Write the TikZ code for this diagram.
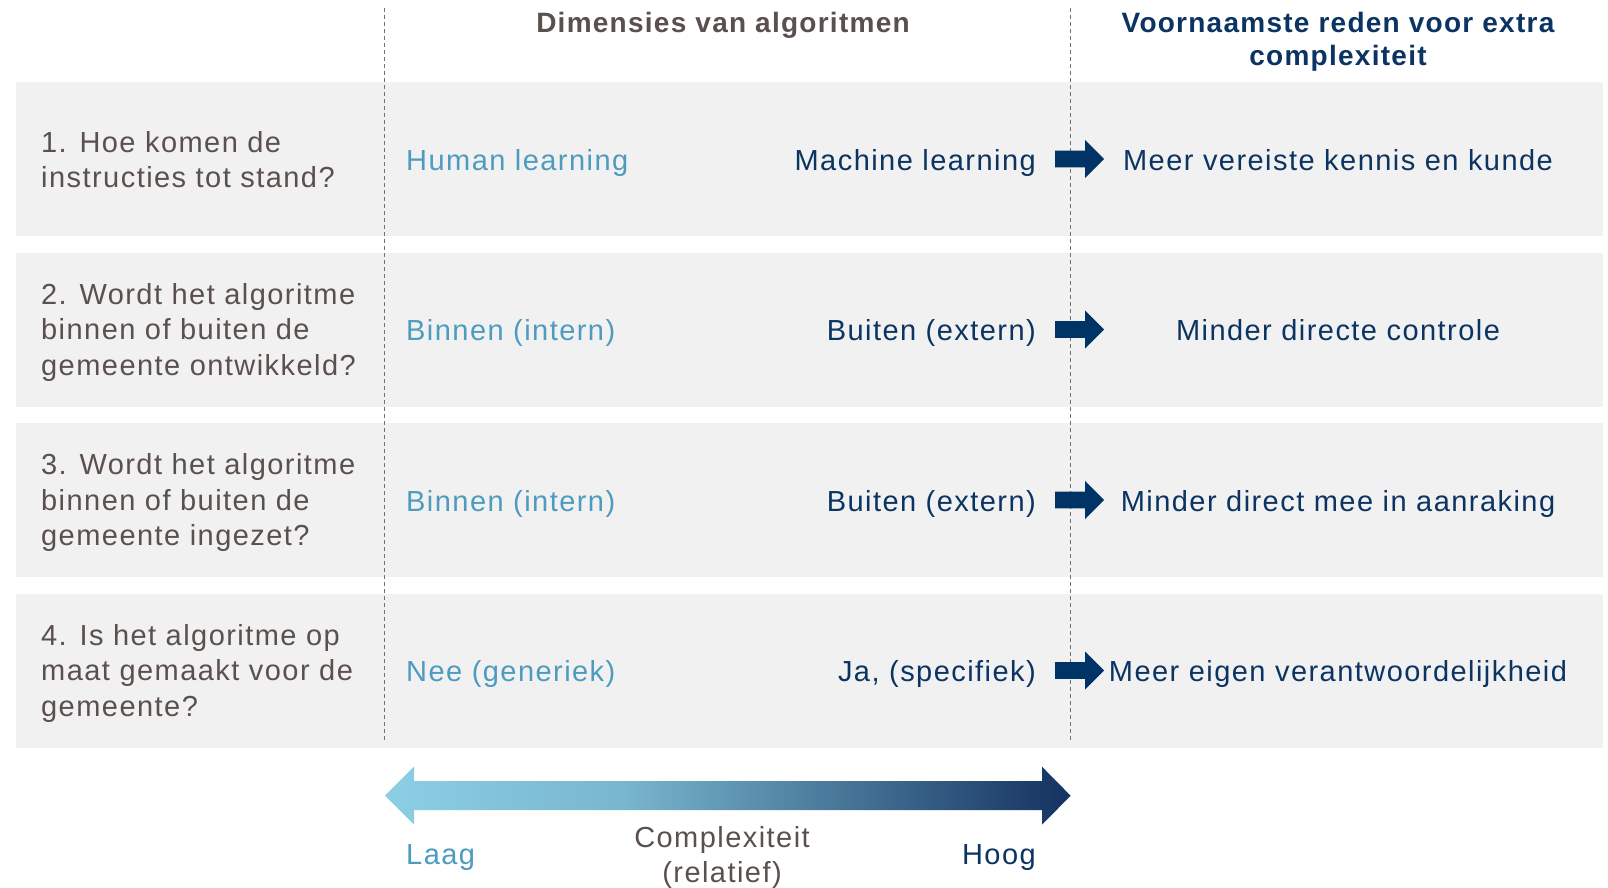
\documentclass[tikz,border=0pt]{standalone}
\usepackage{fontspec}
\setmainfont{Liberation Sans}[LetterSpace=5]
\newfontfamily\headfont{Liberation Sans}[LetterSpace=4.5]
\definecolor{bandc}{RGB}{241,241,241}
\definecolor{qgray}{RGB}{90,80,78}
\definecolor{lblue}{RGB}{78,155,192}
\definecolor{navy}{RGB}{12,52,98}
\definecolor{anavy}{RGB}{0,52,102}
\definecolor{dashc}{RGB}{120,110,108}
\definecolor{gA}{RGB}{140,207,229}
\definecolor{gB}{RGB}{120,182,205}
\definecolor{gC}{RGB}{20,50,96}
\pgfdeclarehorizontalshading{cplx}{100bp}{color(0bp)=(gA); color(25bp)=(gA); color(42.5bp)=(gB); color(75bp)=(gC); color(100bp)=(gC)}
\begin{document}
\begin{tikzpicture}[x=1pt,y=-1pt,
  body/.style={font=\fontsize{29}{35.5}\selectfont, inner sep=0pt},
  headtxt/.style={font=\headfont\bfseries\fontsize{28}{33.5}\selectfont, inner sep=0pt},
  question/.style={body, text=qgray, anchor=west, align=left},
  low/.style={body, text=lblue, anchor=base west},
  high/.style={body, text=navy, anchor=base east},
  reason/.style={body, text=navy, anchor=base},
  divider/.style={draw=dashc, line width=0.8pt, dash pattern=on 4pt off 3pt},
  blockarrow/.style={fill=anavy, draw=none}]
\fill[white] (0,0) rectangle (1608,888);
\useasboundingbox (0,0) rectangle (1608,888);
% bands
\foreach \y in {159,329.5,500,670.5}{
  \fill[bandc] (15.5,{\y-77}) rectangle (1603,{\y+77});
}
% dividers
\coordinate (d1t) at (384.6,8);
\coordinate (d1b) at (384.6,740);
\coordinate (d2t) at (1070.6,8);
\coordinate (d2b) at (1070.6,740);
\draw[divider] (d1t) -- (d1b);
\draw[divider] (d2t) -- (d2b);
% block arrows
\foreach \y in {159,329.5,500,670.5}{
  \fill[blockarrow] (1055,{\y-8.3}) -- (1085,{\y-8.3}) -- (1085,{\y-19}) -- (1104,\y) -- (1085,{\y+19}) -- (1085,{\y+8.3}) -- (1055,{\y+8.3}) -- cycle;
}
% headers
\node[headtxt, text=qgray, anchor=base] (h-dim) at (723,32.5) {Dimensies van algoritmen};
\node[headtxt, text=navy, anchor=north, align=center] (h-reason) at (1338,12) {Voornaamste reden voor extra\\complexiteit};
% row 1
\node[question] (q1) at (41,159.5) {1. Hoe komen de\\instructies tot stand?};
\node[low] (l1) at (406,170) {Human learning};
\node[high] (hi1) at (1036,170) {Machine learning};
\node[reason] (r1) at (1338,170) {Meer vereiste kennis en kunde};
% row 2
\node[question] (q2) at (41,332) {2. Wordt het algoritme\\binnen of buiten de\\gemeente ontwikkeld?};
\node[low] (l2) at (406,340.5) {Binnen (intern)};
\node[high] (hi2) at (1036,340.5) {Buiten (extern)};
\node[reason] (r2) at (1338,340.5) {Minder directe controle};
% row 3
\node[question] (q3) at (41,502.5) {3. Wordt het algoritme\\binnen of buiten de\\gemeente ingezet?};
\node[low] (l3) at (406,511) {Binnen (intern)};
\node[high] (hi3) at (1036,511) {Buiten (extern)};
\node[reason] (r3) at (1338,511) {Minder direct mee in aanraking};
% row 4
\node[question] (q4) at (41,673) {4. Is het algoritme op\\maat gemaakt voor de\\gemeente?};
\node[low] (l4) at (406,681.5) {Nee (generiek)};
\node[high] (hi4) at (1036,681.5) {Ja, (specifiek)};
\node[reason] (r4) at (1338,681.5) {Meer eigen verantwoordelijkheid};
% complexity arrow
\shade[shading=cplx] (385,795.7) -- (414,766.7) -- (414,781.2) -- (1042,781.2) -- (1042,766.7) -- (1070.6,795.7) -- (1042,824.7) -- (1042,810.2) -- (414,810.2) -- (414,824.7) -- cycle;
\node[body, text=lblue, anchor=base west] (laag) at (406,864) {Laag};
\node[body, text=navy, anchor=base east] (hoog) at (1036,864) {Hoog};
\node[body, text=qgray, anchor=north, align=center] (cplx) at (722,826) {Complexiteit\\(relatief)};
\end{tikzpicture}
\end{document}
